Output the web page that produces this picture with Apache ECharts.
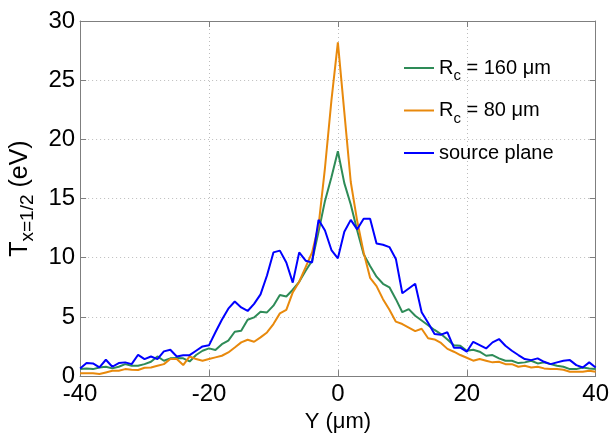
<!DOCTYPE html>
<html>
<head>
<meta charset="utf-8">
<script src="https://cdn.jsdelivr.net/npm/echarts@6/dist/echarts.min.js"></script>
<style>html,body{margin:0;padding:0;background:#fff;}#chart{width:612px;height:438px;}</style>
</head>
<body>
<div id="chart"></div>
<script>
const yPositions = [-40,-39,-38,-37,-36,-35,-34,-33,-32,-31,-30,-29,-28,-27,-26,-25,-24,-23,-22,-21,-20,-19,-18,-17,-16,-15,-14,-13,-12,-11,-10,-9,-8,-7,-6,-5,-4,-3,-2,-1,0,1,2,3,4,5,6,7,8,9,10,11,12,13,14,15,16,17,18,19,20,21,22,23,24,25,26,27,28,29,30,31,32,33,34,35,36,37,38,39,40];
const rc160 = [0.59,0.65,0.59,0.73,0.79,0.65,0.79,1.01,0.87,0.87,1.01,1.21,1.66,1.3,1.5,1.52,1.5,1.24,1.78,2.14,2.34,2.2,2.7,3.0,3.75,3.83,4.76,4.96,5.44,5.38,5.95,6.85,6.73,7.3,7.97,8.9,9.75,12.2,14.8,16.8,19.0,16.3,14.5,12.3,10.3,9.3,8.4,7.8,7.5,6.5,5.4,5.66,5.1,4.7,4.3,3.9,3.55,3.1,2.6,2.56,2.14,2.23,2.06,1.72,1.78,1.5,1.3,1.3,1.1,1.16,1.3,1.07,1.16,1.01,0.87,0.79,0.59,0.59,0.73,0.65,0.59];
const rc80 = [0.25,0.25,0.25,0.17,0.31,0.45,0.45,0.59,0.54,0.51,0.7,0.73,0.87,1.01,1.44,1.44,0.93,1.66,1.44,1.3,1.44,1.58,1.72,2.0,2.42,2.85,3.07,2.9,3.27,3.69,4.4,5.3,5.6,7.07,7.97,9.2,10.45,12.7,17.6,23.3,28.2,22.3,16.4,13.1,10.45,8.3,7.6,6.5,5.6,4.6,4.4,4.1,3.8,4.0,3.2,3.1,2.8,2.3,2.06,1.78,1.55,1.3,1.44,1.3,1.16,1.21,1.01,1.01,0.79,0.87,0.73,0.79,0.65,0.59,0.59,0.54,0.37,0.37,0.37,0.45,0.37];
const sourcePlane = [0.65,1.1,1.07,0.73,1.38,0.79,1.1,1.16,1.01,1.8,1.44,1.66,1.44,2.09,2.23,1.66,1.77,1.77,2.14,2.51,2.6,3.7,4.76,5.7,6.3,5.8,5.5,6.1,6.9,8.5,10.45,10.6,9.6,7.9,10.45,9.75,9.6,13.2,12.3,10.65,9.95,12.2,13.2,12.4,13.3,13.3,11.2,11.1,10.9,9.9,7.0,7.4,7.8,5.4,4.5,3.55,3.5,3.7,2.4,2.4,2.06,2.9,2.62,2.34,2.85,3.13,2.56,2.14,1.78,1.44,1.35,1.5,1.21,1.01,1.16,1.3,1.35,0.93,0.73,1.16,0.73];
const seriesNames = ['Rc160', 'Rc80', 'source plane'];
const xTicks = {min: -40, max: 40, interval: 20};
const yTicks = {min: 0, max: 30, interval: 5};

const FONT = '"Liberation Sans", Arial, sans-serif';
const pair = arr => yPositions.map((x, i) => [x, arr[i]]);
const colors = ['#2E8B57', '#E8890C', '#0000FF'];
const axisGray = '#7f7f7f';

const chart = echarts.init(document.getElementById('chart'));
const baseAxis = {
  axisLine: {show: true, onZero: false, lineStyle: {color: axisGray, width: 1}},
  axisTick: {show: true, inside: true, length: 6, lineStyle: {color: axisGray}},
};
chart.setOption({
  animation: false,
  backgroundColor: '#fff',
  grid: {left: 73, right: 11, top: 21, bottom: 61},
  legend: {
    orient: 'vertical',
    left: 399,
    top: 53,
    itemGap: 17,
    itemWidth: 30,
    itemHeight: 2,
    icon: 'rect',
    data: seriesNames,
    textStyle: {
      fontFamily: FONT, fontSize: 20, color: '#000',
      rich: {
        a: {fontFamily: FONT, fontSize: 20, color: '#000', verticalAlign: 'middle'},
        s: {fontFamily: FONT, fontSize: 15, color: '#000', padding: [16, 0, 0, 0], verticalAlign: 'middle'}
      }
    },
    formatter: function (n) {
      if (n === 'Rc160') return '{a|R}{s|c}{a| = 160 \u03bcm}';
      if (n === 'Rc80') return '{a|R}{s|c}{a| = 80 \u03bcm}';
      return '{a|' + n + '}';
    }
  },
  xAxis: [
    Object.assign({}, baseAxis, {
      type: 'value', min: xTicks.min, max: xTicks.max, interval: xTicks.interval,
      name: 'Y (\u03bcm)', nameLocation: 'middle', nameGap: 34,
      nameTextStyle: {fontFamily: FONT, fontSize: 22, color: '#000'},
      axisLabel: {fontFamily: FONT, fontSize: 24, color: '#000', margin: 6},
      splitLine: {show: true, lineStyle: {color: '#bdbdbd', type: [1, 3], width: 1}}
    }),
    Object.assign({}, baseAxis, {
      type: 'value', position: 'top', min: xTicks.min, max: xTicks.max, interval: xTicks.interval,
      axisLabel: {show: false}, splitLine: {show: false}
    })
  ],
  yAxis: [
    Object.assign({}, baseAxis, {
      type: 'value', min: yTicks.min, max: yTicks.max, interval: yTicks.interval,
      name: '{a|T}{s|x=1/2}{a| (eV)}', nameLocation: 'middle', nameGap: 39, nameRotate: 90,
      nameTextStyle: {
        fontFamily: FONT, fontSize: 25, color: '#000',
        rich: {
          a: {fontFamily: FONT, fontSize: 25, color: '#000', verticalAlign: 'middle'},
          s: {fontFamily: FONT, fontSize: 19, color: '#000', padding: [15, 0, 0, 0], verticalAlign: 'middle'}
        }
      },
      axisLabel: {fontFamily: FONT, fontSize: 24, color: '#000', margin: 5},
      splitLine: {show: true, lineStyle: {color: '#bdbdbd', type: [1, 3], width: 1}}
    }),
    Object.assign({}, baseAxis, {
      type: 'value', position: 'right', min: yTicks.min, max: yTicks.max, interval: yTicks.interval,
      axisLabel: {show: false}, splitLine: {show: false}
    })
  ],
  series: [
    {name: seriesNames[0], type: 'line', data: pair(rc160), showSymbol: false, symbol: 'none',
     lineStyle: {color: colors[0], width: 2}, itemStyle: {color: colors[0]}},
    {name: seriesNames[1], type: 'line', data: pair(rc80), showSymbol: false, symbol: 'none',
     lineStyle: {color: colors[1], width: 2}, itemStyle: {color: colors[1]}},
    {name: seriesNames[2], type: 'line', data: pair(sourcePlane), showSymbol: false, symbol: 'none',
     lineStyle: {color: colors[2], width: 2}, itemStyle: {color: colors[2]}}
  ]
});
</script>
</body>
</html>
